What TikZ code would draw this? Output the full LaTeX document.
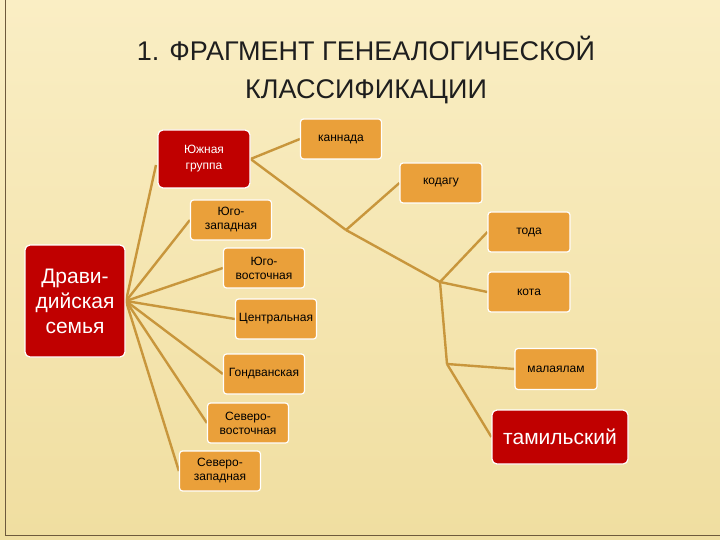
\documentclass[tikz,border=0pt]{standalone}
\usepackage{fontspec}
\setmainfont{Liberation Sans}
\usetikzlibrary{backgrounds}
\definecolor{bgA}{RGB}{250,238,196}
\definecolor{bgB}{RGB}{240,222,160}
\definecolor{frm}{RGB}{110,90,60}
\definecolor{org}{RGB}{234,160,58}
\definecolor{rd}{RGB}{192,0,0}
\definecolor{lnc}{RGB}{200,150,60}
\definecolor{ttl}{RGB}{30,30,30}
\begin{document}
\begin{tikzpicture}[x=1pt,y=-1pt,
  ob/.style={draw=white,line width=1.2pt,fill=org,rounded corners=3pt,align=center,font=\fontsize{12}{14}\selectfont,inner sep=0pt},
  rb/.style={draw=white,line width=1.2pt,fill=rd,text=white,rounded corners=5pt,align=center,inner sep=0pt},
  ln/.style={draw=lnc,line width=2.4pt}]
\useasboundingbox (0,0) rectangle (720,540);
\node[font=\fontsize{27}{38}\selectfont,align=center,text=ttl] (title) at (366,70) {1. ФРАГМЕНТ ГЕНЕАЛОГИЧЕСКОЙ\\КЛАССИФИКАЦИИ};
\node[rb,minimum width=100pt,minimum height=112pt,font=\fontsize{21}{25}\selectfont] (dr) at (75,301) {Драви-\\дийская\\семья};
\node[rb,minimum width=92pt,minimum height=58pt,font=\fontsize{12}{16}\selectfont] (ug) at (204,159) {Южная\\группа};
\node[ob,minimum width=81pt,minimum height=40pt] (uz) at (231,220) {Юго-\\западная};
\node[ob,minimum width=81pt,minimum height=40pt] (uv) at (264,268) {Юго-\\восточная};
\node[ob,minimum width=81pt,minimum height=40pt] (ce) at (276,319) {Центральная};
\node[ob,minimum width=81pt,minimum height=40pt] (go) at (264,374) {Гондванская};
\node[ob,minimum width=81pt,minimum height=40pt] (sv) at (248,423) {Северо-\\восточная};
\node[ob,minimum width=81pt,minimum height=40pt] (sz) at (220,471) {Северо-\\западная};
\node[ob,minimum width=81pt,minimum height=40pt] (ka) at (341,139) {каннада};
\node[ob,minimum width=82pt,minimum height=40pt] (kd) at (441,183) {кодагу};
\node[ob,minimum width=82pt,minimum height=40pt] (to) at (529,232) {тода};
\node[ob,minimum width=82pt,minimum height=40pt] (ko) at (529,292) {кота};
\node[ob,minimum width=82pt,minimum height=41pt] (ma) at (556,369) {малаялам};
\node[rb,minimum width=136pt,minimum height=54pt,font=\fontsize{21}{25}\selectfont] (ta) at (560,437) {тамильский};
\coordinate (d) at (126,301);
\coordinate (j1) at (346,230);
\coordinate (j2) at (440,282);
\coordinate (j3) at (447,364);
\coordinate (ugl) at (156,165);
\begin{pgfonlayer}{background}
\shade[top color=bgA,bottom color=bgB] (0,0) rectangle (720,540);
\draw[frm,line width=1pt] (5,-2) -- (5,535) -- (722,535);
\draw[ln] (d) -- (ugl);
\draw[ln] (d) -- (uz.west);
\draw[ln] (d) -- (uv.west);
\draw[ln] (d) -- (ce.west);
\draw[ln] (d) -- (go.west);
\draw[ln] (d) -- (sv.west);
\draw[ln] (d) -- (sz.west);
\draw[ln] (ug.east) -- (ka.west);
\draw[ln] (ug.east) -- (j1);
\draw[ln] (j1) -- (kd.west);
\draw[ln] (j1) -- (j2);
\draw[ln] (j2) -- (to.west);
\draw[ln] (j2) -- (ko.west);
\draw[ln] (j2) -- (j3);
\draw[ln] (j3) -- (ma.west);
\draw[ln] (j3) -- (ta.west);
\end{pgfonlayer}
\end{tikzpicture}
\end{document}
